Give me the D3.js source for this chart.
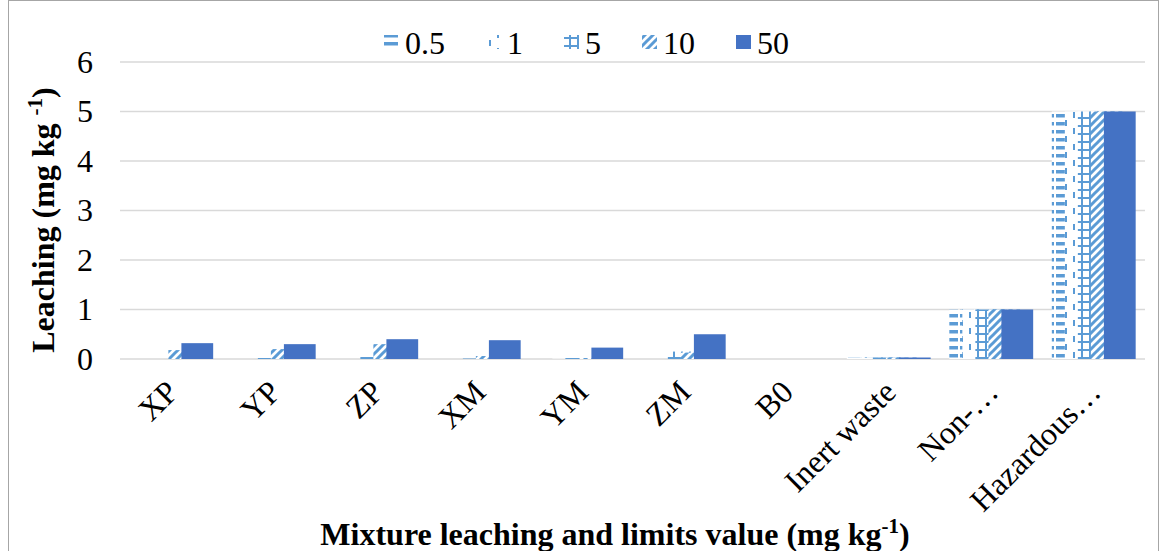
<!DOCTYPE html>
<html>
<head>
<meta charset="utf-8">
<script src="https://cdn.jsdelivr.net/npm/d3@7"></script>
<style>
  body { margin: 0; background: #fff; }
  svg { display: block; font-family: "Liberation Serif", "Times New Roman", serif; }
</style>
</head>
<body>
<svg></svg>
<script>
const width = 1165;
const height = 551;

// data
const categories = ['XP', 'YP', 'ZP', 'XM', 'YM', 'ZM', 'B0', 'Inert waste', 'Non-…', 'Hazardous…'];
const seriesNames = ['0.5', '1', '5', '10', '50'];
const s05 = [0, 0, 0, 0, 0, 0, 0, 0.03, 1, 5];
const s1 = [0, 0, 0, 0, 0.01, 0, 0, 0.03, 1, 5];
const s5 = [0, 0.02, 0.04, 0.01, 0.02, 0.15, 0, 0.03, 1, 5];
const s10 = [0.18, 0.2, 0.3, 0.06, 0.02, 0.13, 0, 0.03, 1, 5];
const s50 = [0.32, 0.3, 0.4, 0.38, 0.23, 0.5, 0, 0.03, 1, 5];
const yTicks = [0, 1, 2, 3, 4, 5, 6];

const seriesValues = [s05, s1, s5, s10, s50];
const light = '#5B9BD5';
const dark = '#4472C4';
const fills = ['url(#p05)', 'url(#p1)', 'url(#p5)', 'url(#p10)', dark];

const plotLeft = 120, plotRight = 1145, plotTop = 62, plotBottom = 359;
const fontSize = 32;

window.onload = () => {
  const svg = d3.select('svg')
      .attr('width', width)
      .attr('height', height);

  // patterns
  const defs = svg.append('defs');

  const p05 = defs.append('pattern').attr('id', 'p05')
      .attr('patternUnits', 'userSpaceOnUse').attr('width', 16).attr('height', 8);
  p05.append('rect').attr('width', 16).attr('height', 8).attr('fill', '#fff');
  p05.append('rect').attr('x', 0).attr('y', 2).attr('width', 14).attr('height', 3.5).attr('fill', light);

  const p1 = defs.append('pattern').attr('id', 'p1')
      .attr('patternUnits', 'userSpaceOnUse').attr('width', 16).attr('height', 16);
  p1.append('rect').attr('width', 16).attr('height', 16).attr('fill', '#fff');
  p1.append('rect').attr('x', 1).attr('y', 0).attr('width', 2).attr('height', 6).attr('fill', light);
  p1.append('rect').attr('x', 9).attr('y', 8).attr('width', 2).attr('height', 6).attr('fill', light);

  const p5 = defs.append('pattern').attr('id', 'p5')
      .attr('patternUnits', 'userSpaceOnUse').attr('width', 8).attr('height', 8);
  p5.append('rect').attr('width', 8).attr('height', 8).attr('fill', '#fff');
  p5.append('rect').attr('x', 1).attr('y', 0).attr('width', 2).attr('height', 8).attr('fill', light);
  p5.append('rect').attr('x', 0).attr('y', 5).attr('width', 8).attr('height', 2).attr('fill', light);

  const p10 = defs.append('pattern').attr('id', 'p10')
      .attr('patternUnits', 'userSpaceOnUse').attr('width', 8).attr('height', 8);
  p10.append('rect').attr('width', 8).attr('height', 8).attr('fill', '#fff');
  p10.append('path').attr('d', 'M-2,2 L2,-2 M0,8 L8,0 M6,10 L10,6')
      .attr('stroke', light).attr('stroke-width', 3);

  // chart border
  svg.append('rect')
      .attr('x', 8.5).attr('y', 0.5)
      .attr('width', 1150).attr('height', 570)
      .attr('fill', 'none')
      .attr('stroke', '#a6a6a6');

  const x = d3.scaleBand()
      .domain(categories)
      .range([plotLeft, plotRight]);

  const y = d3.scaleLinear()
      .domain([0, 6])
      .range([plotBottom, plotTop]);

  // gridlines
  svg.append('g')
    .selectAll('line')
    .data(yTicks)
    .join('line')
      .attr('x1', plotLeft)
      .attr('x2', plotRight)
      .attr('y1', d => y(d))
      .attr('y2', d => y(d))
      .attr('stroke', '#d9d9d9')
      .attr('stroke-width', 1.5);

  // y tick labels
  svg.append('g')
    .selectAll('text')
    .data(yTicks)
    .join('text')
      .attr('x', 93)
      .attr('y', d => y(d))
      .attr('dy', '0.34em')
      .attr('text-anchor', 'end')
      .attr('font-size', fontSize)
      .text(d => d);

  // bars (overlapping, later series on top)
  const bw = x.bandwidth();
  const barWidth = bw * 0.31;
  const step = bw * 0.127;
  const span = step * 4 + barWidth;
  const offset = (bw - span) / 2;

  seriesValues.forEach((vals, si) => {
    svg.append('g')
      .selectAll('rect')
      .data(vals.map((v, i) => ({ cat: categories[i], v })).filter(d => d.v > 0))
      .join('rect')
        .attr('x', d => x(d.cat) + offset + si * step)
        .attr('y', d => y(d.v))
        .attr('width', barWidth)
        .attr('height', d => y(0) - y(d.v))
        .attr('fill', fills[si]);
  });

  // x tick labels
  svg.append('g')
    .selectAll('text')
    .data(categories)
    .join('text')
      .attr('transform', d => `translate(${x(d) + bw / 2 + 1},${plotBottom + 27}) rotate(-45)`)
      .attr('text-anchor', 'end')
      .attr('dy', '0.35em')
      .attr('font-size', fontSize)
      .text(d => d);

  // y axis title
  const yt = svg.append('text')
      .attr('transform', 'translate(54,220) rotate(-90)')
      .attr('text-anchor', 'middle')
      .attr('font-size', fontSize)
      .attr('font-weight', 'bold');
  yt.append('tspan').text('Leaching (mg kg ');
  yt.append('tspan').attr('font-size', 21).attr('dy', -12).text('-1');
  yt.append('tspan').attr('dy', 12).text(')');

  // x axis title
  const xt = svg.append('text')
      .attr('x', 615)
      .attr('y', 545)
      .attr('text-anchor', 'middle')
      .attr('font-size', fontSize)
      .attr('font-weight', 'bold');
  xt.append('tspan').text('Mixture leaching and limits value (mg kg');
  xt.append('tspan').attr('font-size', 21).attr('dy', -12).text('-1');
  xt.append('tspan').attr('dy', 12).text(')');

  // legend
  const legend = svg.append('g');
  let lx = 384;
  seriesNames.forEach((name, si) => {
    legend.append('rect')
        .attr('x', lx)
        .attr('y', 35)
        .attr('width', 15)
        .attr('height', 14)
        .attr('fill', fills[si]);
    const t = legend.append('text')
        .attr('x', lx + 21)
        .attr('y', 54)
        .attr('font-size', fontSize)
        .text(name);
    lx += 21 + t.node().getComputedTextLength() + 41;
  });
};
</script>
</body>
</html>
